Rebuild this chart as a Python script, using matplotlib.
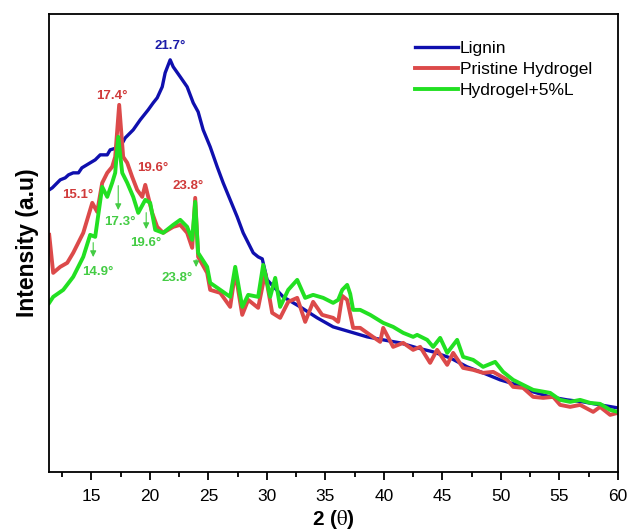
import matplotlib
matplotlib.use("Agg")
import matplotlib.pyplot as plt
from matplotlib.ticker import MultipleLocator

plt.rcParams['font.family'] = ['Liberation Sans', 'DejaVu Sans']
plt.rcParams['mathtext.fontset'] = 'stix'

# XRD patterns (2theta in degrees, intensity in a.u.)
lignin_x = [11.40, 11.66, 12.34, 12.77, 13.05, 13.45, 13.90, 14.19, 14.90, 15.33, 15.76,
            16.36, 16.61, 17.47, 17.90, 18.58, 19.18, 19.86, 20.29, 20.63, 21.06, 21.31,
            21.74, 22.00, 22.60, 23.19, 23.71, 24.13, 24.56, 25.16, 25.76, 26.27, 26.87,
            27.47, 27.98, 28.84, 29.26, 29.61, 30.03, 31.40, 32.85, 34.31, 35.67, 37.13,
            38.58, 39.95, 41.40, 42.85, 44.22, 45.67, 47.13, 48.49, 49.95, 51.40, 52.77,
            54.22, 55.67, 57.04, 58.49, 60.00]
lignin_y = [282, 284, 292, 294, 297, 299, 299, 304, 309, 312, 317,
            317, 322, 325, 334, 342, 352, 362, 369, 374, 385, 399,
            412, 405, 395, 385, 369, 360, 342, 325, 305, 289, 272,
            255, 239, 219, 215, 213, 192, 175, 165, 154, 145, 140,
            135, 132, 129, 124, 120, 114, 105, 99, 92, 87, 80,
            75, 72, 70, 67, 64]

hydrogel_x = [11.40, 11.74, 12.34, 12.94, 13.45, 14.31, 15.08, 15.50, 15.93, 16.36, 16.78,
              17.04, 17.38, 17.72, 18.07, 18.49, 18.92, 19.35, 19.61, 20.20, 20.63, 21.14,
              22.00, 22.60, 23.19, 23.62, 23.88, 24.13, 24.90, 25.16, 26.02, 26.87, 27.30,
              27.90, 28.41, 29.26, 29.86, 30.46, 31.14, 31.83, 32.60, 33.28, 33.96, 34.73,
              35.67, 36.10, 36.45, 36.87, 37.38, 37.98, 38.58, 39.69, 39.95, 40.80, 41.66,
              42.51, 43.11, 43.96, 44.56, 45.42, 45.93, 46.78, 47.64, 48.49, 49.35, 50.55,
              51.06, 51.91, 52.77, 53.62, 54.48, 55.07, 55.93, 56.78, 57.90, 58.49, 59.35,
              60.00]
hydrogel_y = [237, 199, 205, 209, 219, 239, 269, 260, 289, 299, 305,
              315, 367, 315, 309, 295, 282, 275, 287, 259, 245, 239,
              245, 247, 239, 224, 274, 215, 199, 182, 179, 165, 200,
              157, 172, 164, 199, 159, 154, 170, 174, 150, 170, 157,
              154, 150, 176, 172, 144, 144, 139, 130, 144, 125, 129,
              122, 125, 109, 122, 107, 119, 104, 102, 99, 100, 92,
              85, 84, 75, 74, 75, 67, 65, 67, 60, 65, 57,
              59]

blend_x = [11.40, 11.74, 12.60, 13.45, 14.31, 14.90, 15.33, 15.93, 16.36, 16.78, 17.04,
           17.30, 17.64, 18.07, 18.58, 19.01, 19.61, 20.03, 20.46, 21.14, 22.00, 22.60,
           23.19, 23.62, 23.88, 24.13, 24.90, 25.16, 26.02, 26.87, 27.30, 27.90, 28.41,
           29.26, 29.69, 30.29, 30.72, 31.14, 31.83, 32.60, 33.28, 33.96, 34.82, 35.67,
           36.10, 36.45, 36.87, 37.13, 37.38, 37.98, 38.84, 39.95, 40.80, 41.66, 42.51,
           42.85, 43.71, 44.22, 44.82, 45.42, 46.27, 46.78, 47.64, 48.49, 49.52, 50.20,
           51.06, 51.91, 52.77, 54.22, 55.07, 55.93, 56.78, 57.64, 58.49, 59.35, 60.00]
blend_y = [169, 175, 182, 195, 215, 237, 235, 285, 275, 289, 299,
           335, 299, 289, 275, 259, 272, 269, 242, 239, 247, 252,
           245, 232, 270, 219, 205, 189, 182, 175, 205, 165, 177,
           175, 207, 175, 194, 165, 182, 192, 174, 177, 174, 169,
           172, 182, 187, 178, 162, 162, 157, 149, 145, 139, 135,
           137, 132, 125, 134, 119, 132, 115, 112, 105, 110, 100,
           92, 87, 82, 79, 72, 70, 72, 69, 68, 62, 60]

fig = plt.figure(figsize=(6.31, 5.32), dpi=100)
ax = fig.add_axes([0.078, 0.113, 0.901, 0.861])

ax.plot(lignin_x, lignin_y, color='#0f0fae', lw=2.4, label='Lignin')
ax.plot(hydrogel_x, hydrogel_y, color='#dc4a4a', lw=2.8, label='Pristine Hydrogel')
ax.plot(blend_x, blend_y, color='#22e022', lw=2.8, label='Hydrogel+5%L')

# peak labels
ax.text(21.74, 426, '21.7°', color='#1a1aa8', fontsize=9.5, fontweight='bold', ha='center', va='center')
red = '#d03a3a'
for x, y, s in [(16.78, 376, '17.4°'), (13.88, 277, '15.1°'), (20.29, 304, '19.6°'), (23.28, 286, '23.8°')]:
    ax.text(x, y, s, color=red, fontsize=9.5, fontweight='bold', ha='center', va='center')
grn = '#44cc44'
for x, y, s in [(17.47, 250, '17.3°'), (19.69, 229, '19.6°'), (15.59, 200, '14.9°'), (22.34, 194, '23.8°')]:
    ax.text(x, y, s, color=grn, fontsize=9.5, fontweight='bold', ha='center', va='center')

# arrows on the green curve
for x, y0, y1 in [(17.30, 289, 259), (19.69, 262, 240), (15.16, 232, 212), (23.96, 215, 202)]:
    ax.annotate('', xy=(x, y1), xytext=(x, y0),
                arrowprops=dict(arrowstyle='-|>', color=grn, lw=0.8, mutation_scale=9))

ax.set_xlim(11.4, 60)
ax.set_ylim(0, 458)
ax.xaxis.set_major_locator(MultipleLocator(5))
ax.xaxis.set_minor_locator(MultipleLocator(2.5))
ax.tick_params(axis='x', which='major', direction='out', length=6, width=1.3, labelsize=12.5, pad=6)
ax.tick_params(axis='x', which='minor', direction='out', length=3.5, width=1.3)
ax.set_yticks([])
for sp in ax.spines.values():
    sp.set_linewidth(1.3)

ax.set_xlabel(r'2 ($\mathrm{\theta}$)', fontsize=15, fontweight='bold', labelpad=3)
ax.set_ylabel('Intensity (a.u)', fontsize=16.5, fontweight='bold', labelpad=7)

ax.legend(loc='upper right', frameon=False, fontsize=12.5, handlelength=2.5, handletextpad=0.1,
          labelspacing=0.33, bbox_to_anchor=(0.982, 0.975))

fig.savefig('out.png', dpi=100)
